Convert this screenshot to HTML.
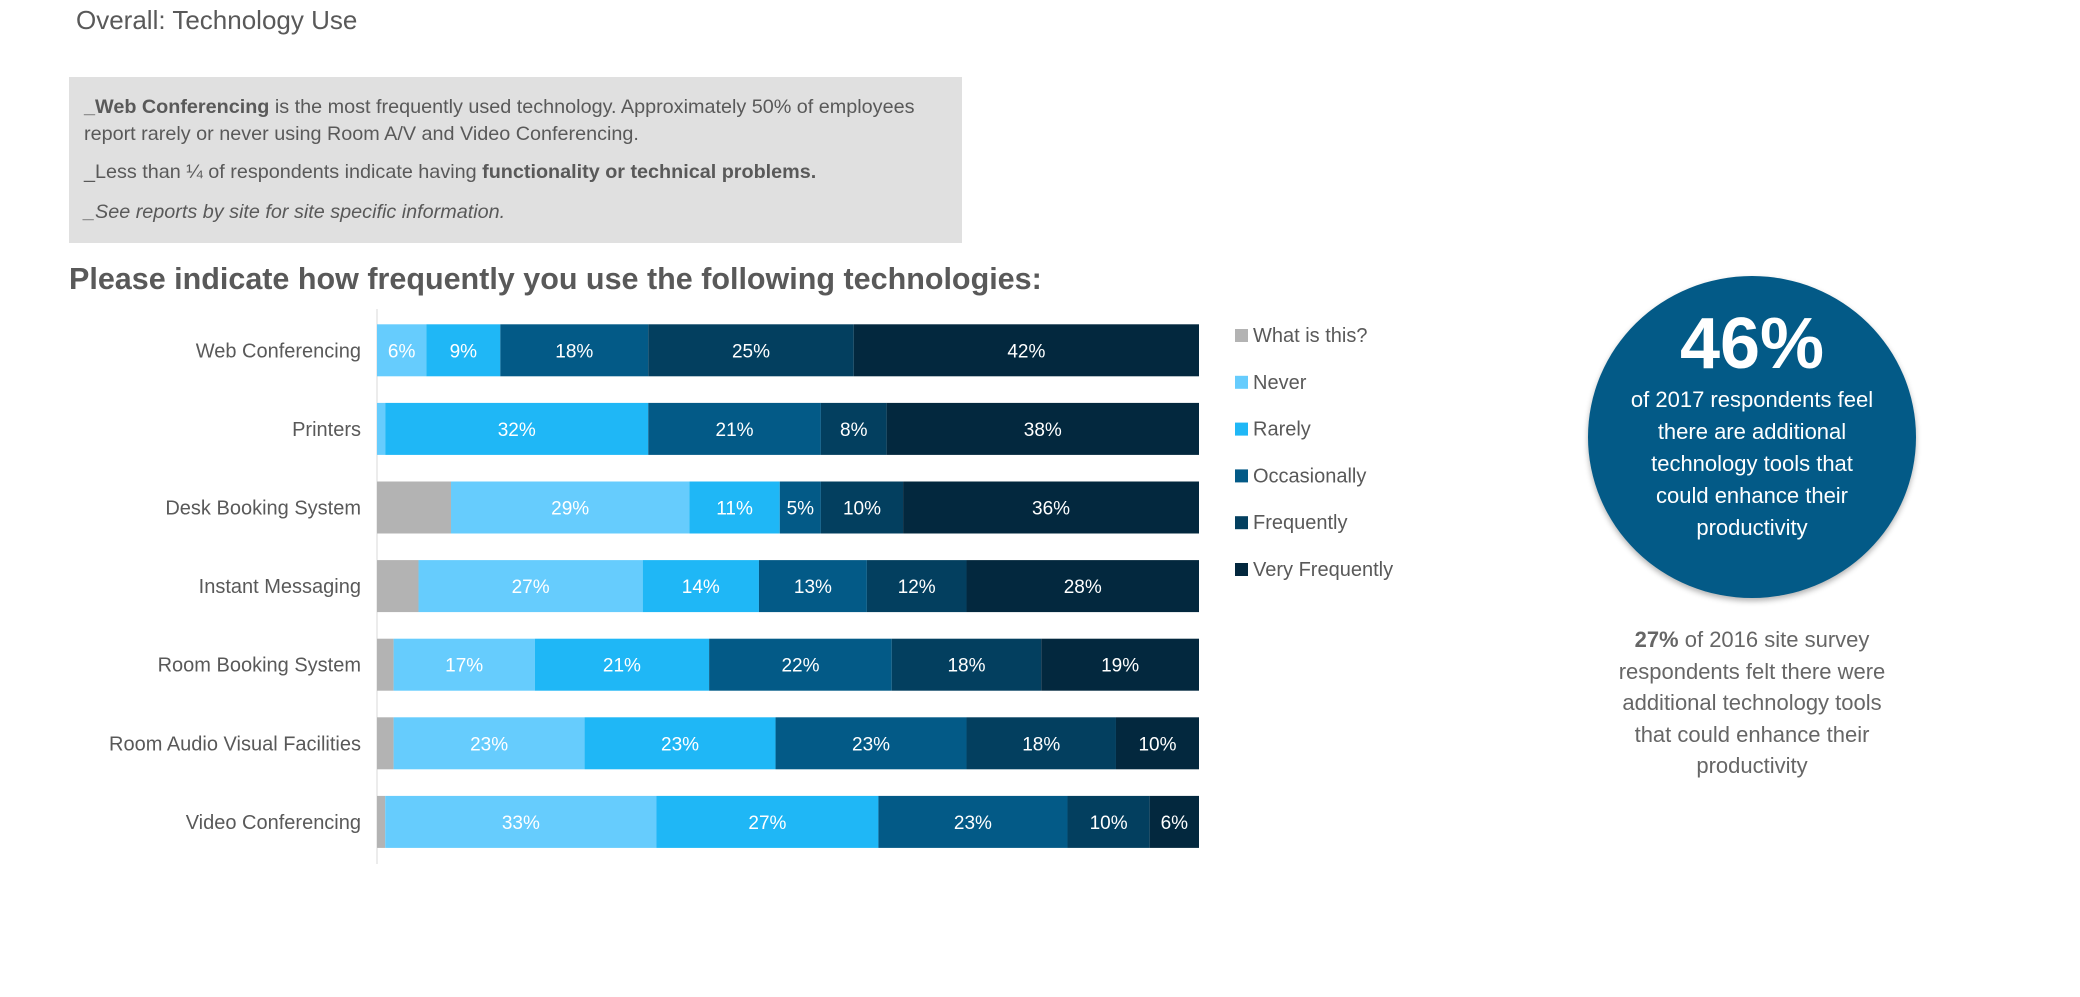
<!DOCTYPE html>
<html><head><meta charset="utf-8"><style>
body{margin:0;width:2080px;height:997px;background:#fff;font-family:"Liberation Sans",sans-serif;color:#595959;position:relative;overflow:hidden}
.a{position:absolute;white-space:nowrap}
</style></head><body>
<div class="a" style="left:76px;top:5px;font-size:26px;">Overall: Technology Use</div>
<div class="a" style="left:69px;top:77px;width:893px;height:166px;background:#e0e0e0"></div>
<div class="a" style="left:84px;top:94px;font-size:19.8px;line-height:27px;"><b>_Web Conferencing</b> is the most frequently used technology. Approximately 50% of employees<br>report rarely or never using Room A/V and Video Conferencing.</div>
<div class="a" style="left:84px;top:161px;font-size:19.8px;">_Less than ¼ of respondents indicate having <b>functionality or technical problems.</b></div>
<div class="a" style="left:84px;top:201px;font-size:19.8px;font-style:italic">_See reports by site for site specific information.</div>
<div class="a" style="left:69px;top:262px;font-size:30.5px;font-weight:bold;">Please indicate how frequently you use the following technologies:</div>
<svg class="a" style="left:0;top:0" width="2080" height="997" id="chart"></svg>
<div class="a" style="left:1588px;top:276px;width:328px;height:322px;border-radius:50%;background:#035a87;box-shadow:0 3px 6px rgba(0,0,0,.3)"></div>
<div class="a" style="left:1588px;width:328px;top:303px;text-align:center;color:#fff;font-size:72px;font-weight:bold;">46%</div>
<div class="a" style="left:1588px;width:328px;top:384px;text-align:center;color:#fff;font-size:22px;line-height:32px;white-space:normal">of 2017 respondents feel<br>there are additional<br>technology tools that<br>could enhance their<br>productivity</div>
<div class="a" style="left:1568px;width:368px;top:624px;text-align:center;color:#666;font-size:22px;line-height:31.5px;white-space:normal"><b>27%</b> of 2016 site survey<br>respondents felt there were<br>additional technology tools<br>that could enhance their<br>productivity</div>
<script>
const categories=["Web Conferencing","Printers","Desk Booking System","Instant Messaging","Room Booking System","Room Audio Visual Facilities","Video Conferencing"];
const seriesNames=["What is this?","Never","Rarely","Occasionally","Frequently","Very Frequently"];
const whatIsThis=[0,0,9,5,2,2,1];
const never=[6,1,29,27,17,23,33];
const rarely=[9,32,11,14,21,23,27];
const occasionally=[18,21,5,13,22,23,23];
const frequently=[25,8,10,12,18,18,10];
const veryFrequently=[42,38,36,28,19,10,6];
const series=[whatIsThis,never,rarely,occasionally,frequently,veryFrequently];
const colors=["#b3b3b3","#66ccfd","#1fb7f6","#035a87","#033f5f","#03283e"];
const svg=document.getElementById('chart');
const NS='http://www.w3.org/2000/svg';
const X0=377,X1=1199,Y0=311,band=78.6,bh=52;
const xs=f=>X0+f*(X1-X0);
const yc=i=>Y0+band*(i+0.5);
function mk(t,a){const e=document.createElementNS(NS,t);for(const k in a)e.setAttribute(k,a[k]);svg.appendChild(e);return e;}
const ax=mk('line',{x1:X0,x2:X0,y1:309,y2:864,stroke:'#d9d9d9','stroke-width':1});


categories.forEach((c,i)=>{
  const tot=series.reduce((s,a)=>s+a[i],0);
  let cum=0;
  const t=mk('text',{x:361,y:yc(i)+7,'text-anchor':'end','font-size':20,fill:'#595959'});
  t.textContent=c;
  
  
  series.forEach((a,s)=>{
    const v=a[i];
    const x1=xs(cum/tot),x2=xs((cum+v)/tot);cum+=v;
    if(v<=0)return;
    const r=mk('rect',{x:x1,y:yc(i)-bh/2,width:x2-x1,height:bh,fill:colors[s]});
    
    
    if(s>0&&v>=3){
      const l=mk('text',{x:(x1+x2)/2,y:yc(i)+7,'text-anchor':'middle','font-size':19,fill:'#fff'});
      l.textContent=v+'%';
      
      
    }
  });
});
seriesNames.forEach((n,s)=>{
  const y=336+s*46.8;
  const r=mk('rect',{x:1235,y:y-7,width:13,height:13,fill:colors[s]});
  
  
  const t=mk('text',{x:1253,y:y+6,'font-size':20,fill:'#595959'});
  t.textContent=n;
  
  
});
</script>
</body></html>
